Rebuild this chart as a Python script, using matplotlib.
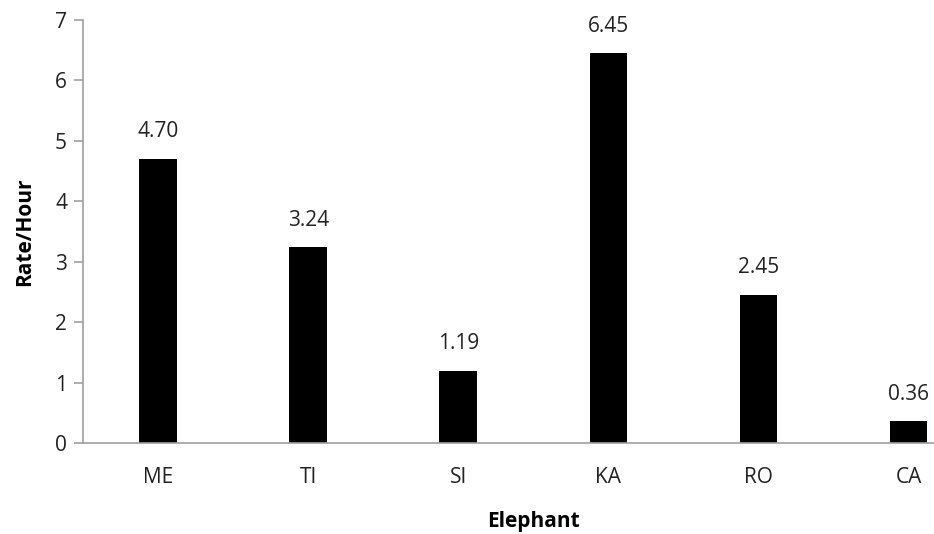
import matplotlib
matplotlib.use("Agg")
import matplotlib.pyplot as plt

elephants = ["ME", "TI", "SI", "KA", "RO", "CA"]
rates = [4.70, 3.24, 1.19, 6.45, 2.45, 0.36]

plt.rcParams['font.family'] = ['Open Sans', 'DejaVu Sans']

fig = plt.figure(figsize=(9.34, 5.34), dpi=100)
ax = fig.add_axes([0.0889, 0.1704, 0.9111, 0.7921])

x = range(len(elephants))
bars = ax.bar(x, rates, width=0.25, color="black")
for xi, r in zip(x, rates):
    ax.annotate(f"{r:.2f}", xy=(xi, r), xytext=(0, 12), textcoords="offset points",
                ha="center", va="bottom", fontsize=15, color="#222222")

ax.set_xlim(-0.5, 5.17)
ax.set_ylim(0, 7)
ax.set_xticks(list(x))
ax.set_xticklabels(elephants)
ax.set_yticks(range(8))

for side in ["top", "right"]:
    ax.spines[side].set_visible(False)
for side in ["left", "bottom"]:
    ax.spines[side].set_color("#a0a0a0")
    ax.spines[side].set_linewidth(1.2)

ax.tick_params(axis="y", length=6.5, width=1.2, color="#a0a0a0", labelsize=15, pad=5)
ax.tick_params(axis="x", length=0, labelsize=15, pad=17)
for lbl in ax.get_xticklabels() + ax.get_yticklabels():
    lbl.set_color("#222222")

# x label sits under the middle of the full category span (2.5)
ax.set_xlabel("Elephant", fontsize=15, fontweight="bold", labelpad=17)
ax.xaxis.label.set_x((2.5 + 0.5) / (5.17 + 0.5))
ax.set_ylabel("Rate/Hour", fontsize=15, fontweight="bold", labelpad=14)

fig.savefig("out.png", dpi=100)
